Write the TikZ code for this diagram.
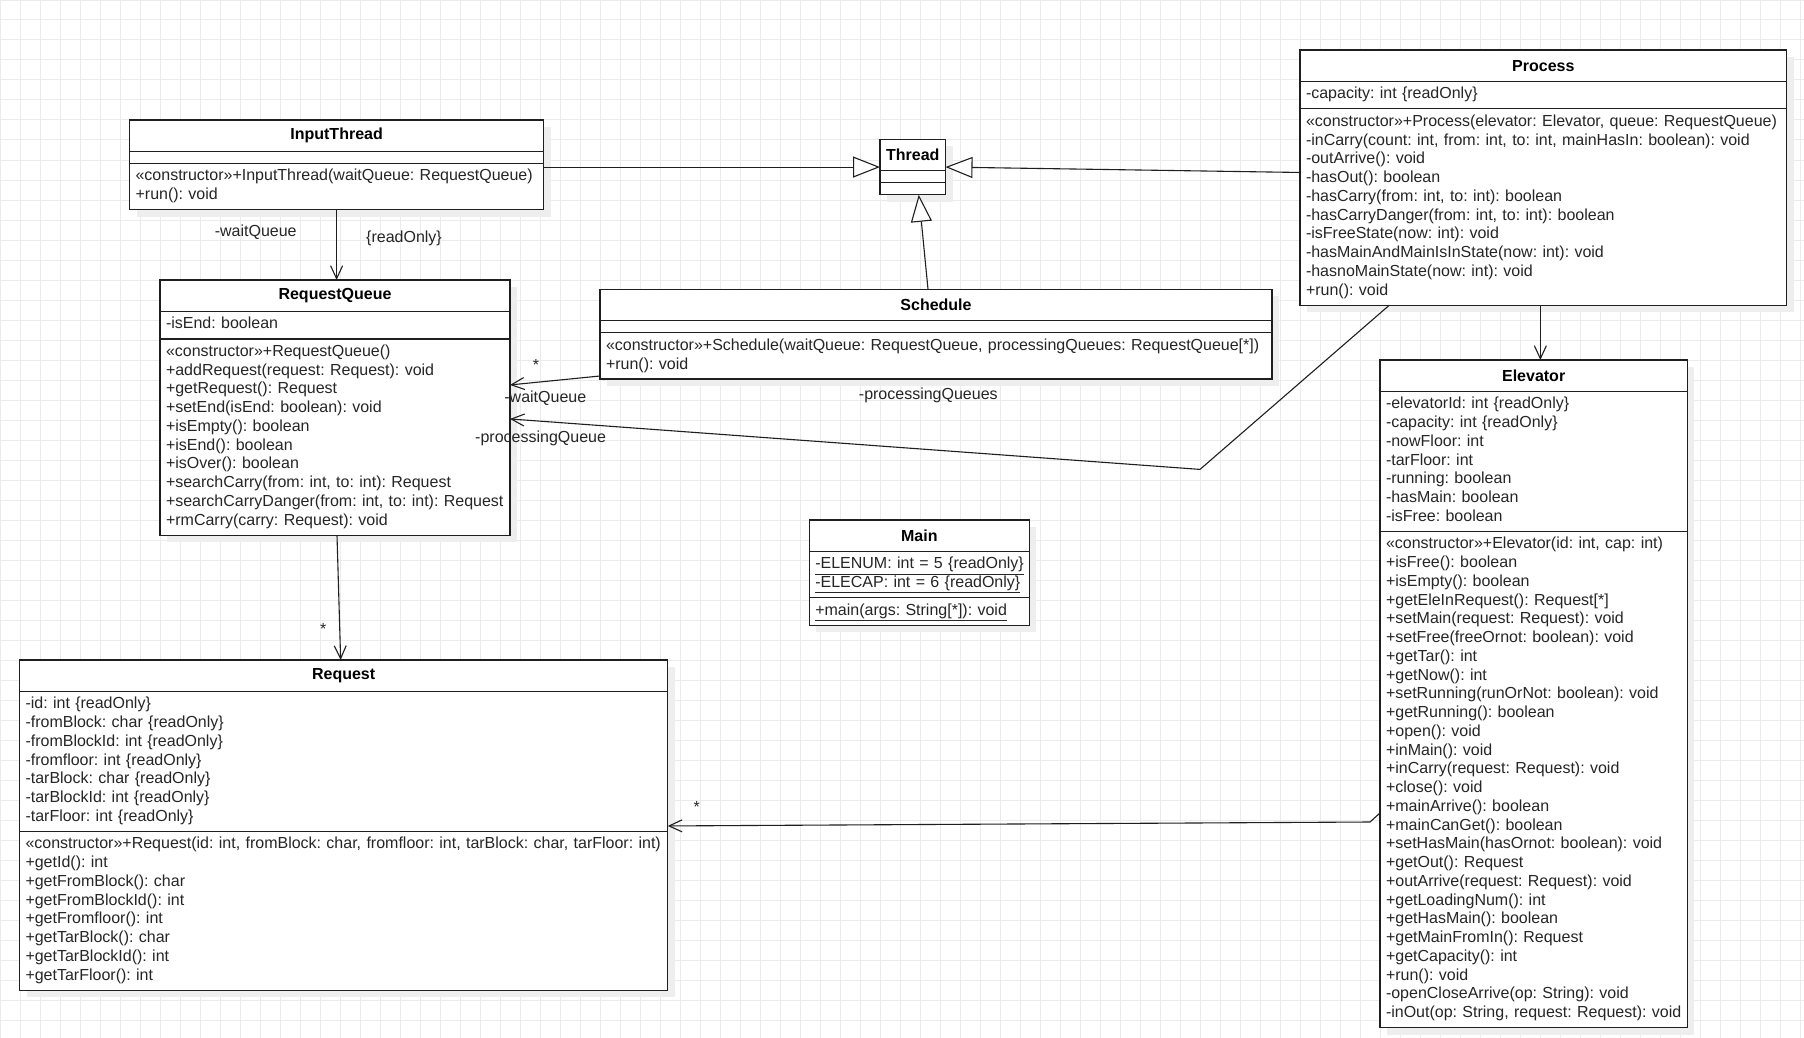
\documentclass[tikz,border=0pt]{standalone}
\usepackage{fontspec}
\setmainfont{Liberation Sans}
\usetikzlibrary{arrows.meta,positioning,calc,shadows}
\definecolor{umlline}{HTML}{1F1F1F}
\definecolor{umltext}{HTML}{262626}
\definecolor{gridgray}{HTML}{EBEBEB}
\definecolor{shade}{HTML}{EEEEEE}
\newcommand{\memfont}{\fontsize{16}{18.75}\selectfont\frenchspacing\hyphenpenalty=10000\exhyphenpenalty=10000}

\begin{document}
\begin{tikzpicture}[x=1pt, y=-1pt,
  box/.style={draw=umlline, line width=1.1pt, fill=white, outer sep=0pt,
    drop shadow={shadow xshift=7pt, shadow yshift=-7pt, fill=shade, opacity=1}},
  ttl/.style={box, font=\memfont\bfseries, text=black, inner sep=0pt, minimum height=31.5pt},
  emp/.style={box, inner sep=0pt, minimum height=12pt, minimum width=#1},
  mem/.style={box, font=\memfont, text=umltext, text width=#1, align=left,
    inner xsep=6pt, inner ysep=4.35pt,
    execute at begin node=\strut, execute at end node=\strut},
  lbl/.style={font=\memfont, text=umltext, inner sep=0pt},
  gen/.style={-{Triangle[length=27pt, width=21pt, fill=white]}, line width=1.1pt, draw=umlline},
  assoc/.style={-{Straight Barb[length=13pt, width=12pt]}, line width=1.1pt, draw=umlline}
]
  \useasboundingbox (0,0) rectangle (1804,1038);
  \fill[white] (0,0) rectangle (1804,1038);
  \draw[gridgray, line width=1pt, step=20pt] (0,1038) grid (1804,0);

  % InputThread
  \node[ttl, minimum width=414pt] (itT) at (336.6,135.75) {InputThread};
  \node[emp=414pt, below=0pt of itT] (itA) {};
  \node[mem=402pt, below=0pt of itA] (itM) {«constructor»+InputThread(waitQueue: RequestQueue)\\+run(): void};

  % Thread
  \node[ttl, minimum width=65.5pt] (thrT) at (912.75,155.05) {Thread};
  \node[emp=65.5pt, below=0pt of thrT] (thrA) {};
  \node[emp=65.5pt, below=0pt of thrA] (thrM) {};

  % Process
  \node[ttl, minimum width=486.7pt] (prT) at (1543.35,65.75) {Process};
  \node[mem=474.7pt, below=0pt of prT] (prA) {-capacity: int \{readOnly\}};
  \node[mem=474.7pt, below=0pt of prA] (prM) {«constructor»+Process(elevator: Elevator, queue: RequestQueue)\\
    -inCarry(count: int, from: int, to: int, mainHasIn: boolean): void\\
    -outArrive(): void\\
    -hasOut(): boolean\\
    -hasCarry(from: int, to: int): boolean\\
    -hasCarryDanger(from: int, to: int): boolean\\
    -isFreeState(now: int): void\\
    -hasMainAndMainIsInState(now: int): void\\
    -hasnoMainState(now: int): void\\
    +run(): void};

  % RequestQueue
  \node[ttl, minimum width=350pt] (rqT) at (335,295.75) {RequestQueue};
  \node[mem=338pt, below=0pt of rqT] (rqA) {-isEnd: boolean};
  \node[mem=338pt, below=0pt of rqA] (rqM) {«constructor»+RequestQueue()\\
    +addRequest(request: Request): void\\
    +getRequest(): Request\\
    +setEnd(isEnd: boolean): void\\
    +isEmpty(): boolean\\
    +isEnd(): boolean\\
    +isOver(): boolean\\
    +searchCarry(from: int, to: int): Request\\
    +searchCarryDanger(from: int, to: int): Request\\
    +rmCarry(carry: Request): void};

  % Schedule
  \node[ttl, minimum width=672pt] (scT) at (936,305.05) {Schedule};
  \node[emp=672pt, below=0pt of scT] (scA) {};
  \node[mem=660pt, below=0pt of scA] (scM) {«constructor»+Schedule(waitQueue: RequestQueue, processingQueues: RequestQueue[*])\\+run(): void};

  % Elevator
  \node[ttl, minimum width=307.3pt] (elT) at (1533.65,375.75) {Elevator};
  \node[mem=295.3pt, below=0pt of elT] (elA) {-elevatorId: int \{readOnly\}\\
    -capacity: int \{readOnly\}\\
    -nowFloor: int\\
    -tarFloor: int\\
    -running: boolean\\
    -hasMain: boolean\\
    -isFree: boolean};
  \node[mem=295.3pt, below=0pt of elA] (elM) {«constructor»+Elevator(id: int, cap: int)\\
    +isFree(): boolean\\
    +isEmpty(): boolean\\
    +getEleInRequest(): Request[*]\\
    +setMain(request: Request): void\\
    +setFree(freeOrnot: boolean): void\\
    +getTar(): int\\
    +getNow(): int\\
    +setRunning(runOrNot: boolean): void\\
    +getRunning(): boolean\\
    +open(): void\\
    +inMain(): void\\
    +inCarry(request: Request): void\\
    +close(): void\\
    +mainArrive(): boolean\\
    +mainCanGet(): boolean\\
    +setHasMain(hasOrnot: boolean): void\\
    +getOut(): Request\\
    +outArrive(request: Request): void\\
    +getLoadingNum(): int\\
    +getHasMain(): boolean\\
    +getMainFromIn(): Request\\
    +getCapacity(): int\\
    +run(): void\\
    -openCloseArrive(op: String): void\\
    -inOut(op: String, request: Request): void};

  % Main
  \node[ttl, minimum width=220pt] (mnT) at (919.3,535.75) {Main};
  \node[mem=208pt, below=0pt of mnT] (mnA) {\underline{-ELENUM: int = 5 \{readOnly\}}\\\underline{-ELECAP: int = 6 \{readOnly\}}};
  \node[mem=208pt, below=0pt of mnA] (mnM) {\underline{+main(args: String[*]): void}};

  % Request
  \node[ttl, minimum width=648.3pt] (reT) at (343.65,675.75) {Request};
  \node[mem=636.3pt, below=0pt of reT] (reA) {-id: int \{readOnly\}\\
    -fromBlock: char \{readOnly\}\\
    -fromBlockId: int \{readOnly\}\\
    -fromfloor: int \{readOnly\}\\
    -tarBlock: char \{readOnly\}\\
    -tarBlockId: int \{readOnly\}\\
    -tarFloor: int \{readOnly\}};
  \node[mem=636.3pt, below=0pt of reA] (reM) {«constructor»+Request(id: int, fromBlock: char, fromfloor: int, tarBlock: char, tarFloor: int)\\
    +getId(): int\\
    +getFromBlock(): char\\
    +getFromBlockId(): int\\
    +getFromfloor(): int\\
    +getTarBlock(): char\\
    +getTarBlockId(): int\\
    +getTarFloor(): int};

  % connectors
  \coordinate (thrW) at ($(thrT.north west)!.5!(thrM.south west)$);
  \coordinate (thrE) at ($(thrT.north east)!.5!(thrM.south east)$);
  \coordinate (pqBend) at (1200,469.4);
  \coordinate (elBend) at (1370,822);

  \draw[gen] (itM.east |- thrW) -- (thrW);
  \draw[gen] ($(prT.north west)!.48!(prM.south west)$) -- (thrE);
  \draw[gen] ([xshift=-8pt]scT.north) -- ([xshift=6pt]thrM.south);

  \draw[assoc] (itM.south) -- (itM.south |- rqT.north);
  \draw[assoc] ([yshift=3pt]scM.south west) -- ([yshift=-46pt]rqM.north east);
  \draw[assoc] ([xshift=-154pt]prM.south) -- (pqBend) -- ([yshift=-80pt]rqM.north east);
  \draw[assoc] ([xshift=-3pt]prM.south) -- ([xshift=-3pt]prM.south |- elT.north);
  \draw[assoc] ([xshift=2pt]rqM.south) -- ([xshift=-3pt]reT.north);
  \draw[assoc] ([yshift=-281.5pt]elM.north west) -- (elBend) -- ([yshift=5.5pt]reA.south east);

  % labels
  \node[lbl] (lWq1) at (255.7,232.7) {-waitQueue};
  \node[lbl] (lRo) at (404,238.3) {\{readOnly\}};
  \node[lbl] (lSt1) at (536,365) {*};
  \node[lbl] (lWq2) at (545.3,398.5) {-waitQueue};
  \node[lbl] (lPq1) at (540.6,438.8) {-processingQueue};
  \node[lbl] (lPq2) at (928.3,395) {-processingQueues};
  \node[lbl] (lSt2) at (323.3,629.3) {*};
  \node[lbl] (lSt3) at (696.7,806.7) {*};
\end{tikzpicture}
\end{document}
